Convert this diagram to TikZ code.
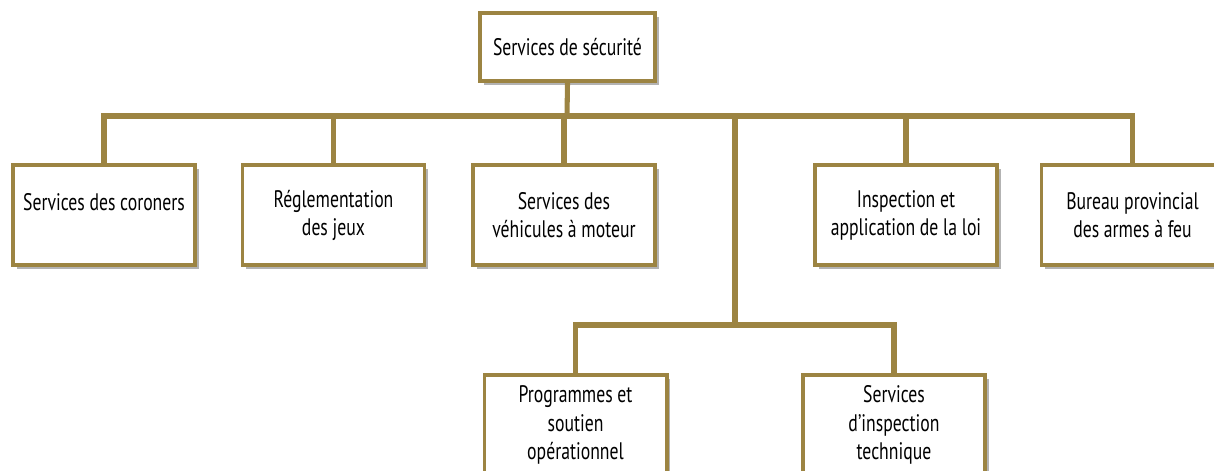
\documentclass[tikz,border=0pt]{standalone}
\usepackage{fontspec}
\setmainfont[FakeStretch=0.74]{PT Sans}
\usepackage{xcolor}
\usepackage{tikz}
\usetikzlibrary{shadows}
\definecolor{gold}{RGB}{156,132,66}

\begin{document}
\begin{tikzpicture}[x=0.025cm,y=-0.025cm]
        % Define the styles for the boxes and the links
        \tikzstyle{unit}=[draw=gold, line width=2.8pt, fill=white, minimum width=4.55cm, minimum height=2.5cm, align=center, inner sep=2pt, font=\fontsize{17}{20}\selectfont, drop shadow={shadow xshift=0.09cm, shadow yshift=-0.09cm, fill=black!50, opacity=0.6}];
        \tikzstyle{link}=[draw=gold, line width=3.6pt];
        
        % Fix the size of the page
        \useasboundingbox (0,0) rectangle (1214,471);
        
        % Top box
        \node[unit, minimum width=4.375cm, minimum height=1.7cm] (securite) at (567.5,47) {Services de sécurité};
        
        % Row of boxes under the top box
        \node[unit, text depth=0.65cm] (coroners) at (104,215) {Services des coroners};
        \node[unit] (jeux) at (333.5,215) {Réglementation\\des jeux};
        \node[unit] (vehicules) at (564,215) {Services des\\véhicules à moteur};
        \node[unit] (inspection) at (906,215) {Inspection et\\application de la loi};
        \node[unit] (armes) at (1132.5,215) {Bureau provincial\\des armes à feu};
        
        % Boxes at the bottom
        \node[unit] (programmes) at (575.5,425) {Programmes et\\soutien\\opérationnel};
        \node[unit] (technique) at (894,425) {Services\\d’inspection\\technique};
        
        % Junctions of the links
        \coordinate (bus) at (567,116);
        \coordinate (spine) at (735,325);
        
        % Links from the top box to the row
        \draw[link] (securite.south) -- (bus);
        \draw[link] (coroners.north) |- (bus) -| (armes.north);
        \draw[link] (jeux.north) -- (jeux.north |- bus);
        \draw[link] (vehicules.north) -- (vehicules.north |- bus);
        \draw[link] (inspection.north) -- (inspection.north |- bus);
        
        % Links down to the bottom boxes
        \draw[link] (spine |- bus) -- (spine);
        \draw[link] (programmes.north) |- (spine) -| (technique.north);
    \end{tikzpicture}
\end{document}
